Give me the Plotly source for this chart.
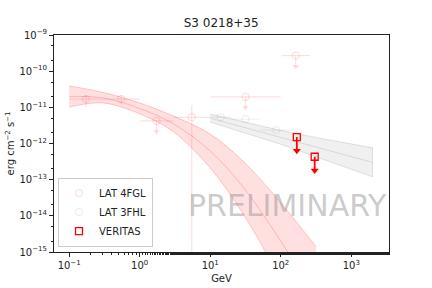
import numpy as np
import plotly.graph_objects as go

# ---- 4FGL log-parabola butterfly ----
band4_e = [0.1, 0.3, 1.0, 3.0, 10.0, 30.0, 100.0, 316.0]
band4_hi = [3.9e-11, 2.6e-11, 1.32e-11, 5.75e-12, 1.82e-12, 3.1e-13, 2.3e-14, 1.4e-15]
band4_mid = [2.0e-11, 1.82e-11, 9.3e-12, 3.5e-12, 6.2e-13, 5.9e-14, 2.0e-15, 5.4e-17]
band4_lo = [1.02e-11, 1.32e-11, 6.6e-12, 2.1e-12, 2.1e-13, 1.05e-14, 1.7e-16, 2.1e-18]

# ---- 3FHL power-law butterfly ----
band3_e = [10.0, 30.0, 100.0, 300.0, 1000.0, 2000.0]
band3_hi = [6.5e-12, 3.9e-12, 2.3e-12, 1.5e-12, 9.8e-13, 7.6e-13]
band3_mid = [5.0e-12, 2.8e-12, 1.5e-12, 8.3e-13, 4.4e-13, 3.0e-13]
band3_lo = [3.9e-12, 2.0e-12, 9.5e-13, 4.6e-13, 1.95e-13, 1.2e-13]

# ---- 4FGL flux points ----
fgl_e = [0.173, 0.548, 5.48]
fgl_e_lo = [0.1, 0.3, 3.0]
fgl_e_hi = [0.3, 1.0, 10.0]
fgl_f = [1.69e-11, 1.69e-11, 5.3e-12]
fgl_f_lo = [1.03e-11, 1.23e-11, 1e-17]
fgl_f_hi = [2.2e-11, 2.2e-11, 1.15e-11]

# 4FGL upper limits
fgl_ul_e = [1.73, 31.6, 163.0]
fgl_ul_e_lo = [1.0, 10.0, 103.0]
fgl_ul_e_hi = [3.0, 100.0, 258.0]
fgl_ul_f = [4.2e-12, 1.94e-11, 2.7e-10]

# ---- 3FHL flux points ----
fhl_e = [14.1, 31.6, 86.6]
fhl_e_lo = [10.0, 20.0, 50.0]
fhl_e_hi = [20.0, 50.0, 150.0]
fhl_f = [5.3e-12, 4.7e-12, 2.35e-12]

# ---- VERITAS upper limits ----
ver_e = [169.0, 303.0]
ver_f = [1.5e-12, 4.3e-13]

PINK_FILL = 'rgba(255,0,0,0.12)'
PINK_LINE = 'rgba(255,0,0,0.2)'
PINK_PT = 'rgba(255,0,0,0.12)'
GRAY_FILL = 'rgba(128,128,128,0.12)'
GRAY_LINE = 'rgba(128,128,128,0.22)'
GRAY_PT = 'rgba(128,128,128,0.12)'


def xerr(e, lo, hi):
    e = np.array(e)
    return dict(type='data', symmetric=False, array=np.array(hi) - e,
                arrayminus=e - np.array(lo), width=0, thickness=1.2)


fig = go.Figure()

# 4FGL butterfly
fig.add_trace(go.Scatter(x=band4_e, y=band4_hi, mode='lines', line=dict(color=PINK_LINE, width=1, shape='spline'),
                         showlegend=False, hoverinfo='skip'))
fig.add_trace(go.Scatter(x=band4_e, y=band4_lo, mode='lines', line=dict(color=PINK_LINE, width=1, shape='spline'),
                         fill='tonexty', fillcolor=PINK_FILL, showlegend=False, hoverinfo='skip'))
fig.add_trace(go.Scatter(x=band4_e, y=band4_mid, mode='lines', line=dict(color=PINK_LINE, width=1, shape='spline'),
                         showlegend=False, hoverinfo='skip'))

# 3FHL butterfly
fig.add_trace(go.Scatter(x=band3_e + band3_e[::-1], y=band3_hi + band3_lo[::-1], mode='lines',
                         line=dict(color=GRAY_LINE, width=1), fill='toself', fillcolor=GRAY_FILL,
                         showlegend=False, hoverinfo='skip'))
fig.add_trace(go.Scatter(x=band3_e, y=band3_mid, mode='lines', line=dict(color=GRAY_LINE, width=1),
                         showlegend=False, hoverinfo='skip'))

# 4FGL points
f = np.array(fgl_f)
fig.add_trace(go.Scatter(
    x=fgl_e, y=fgl_f, mode='markers', name='LAT 4FGL',
    marker=dict(symbol='circle-open', size=7, color=PINK_PT, line=dict(width=1.2)),
    error_x=xerr(fgl_e, fgl_e_lo, fgl_e_hi) | dict(color=PINK_PT),
    error_y=dict(type='data', symmetric=False, array=np.array(fgl_f_hi) - f,
                 arrayminus=f - np.array(fgl_f_lo), width=0, thickness=1.2, color=PINK_PT),
))
ul = np.array(fgl_ul_f)
fig.add_trace(go.Scatter(
    x=fgl_ul_e, y=fgl_ul_f, mode='markers', showlegend=False,
    marker=dict(symbol='circle-open', size=7, color=PINK_PT, line=dict(width=1.2)),
    error_x=xerr(fgl_ul_e, fgl_ul_e_lo, fgl_ul_e_hi) | dict(color=PINK_PT),
    error_y=dict(type='data', symmetric=False, array=ul * 0, arrayminus=ul * 0.5,
                 width=0, thickness=1.2, color=PINK_PT),
))
fig.add_trace(go.Scatter(x=fgl_ul_e, y=ul * 0.5, mode='markers', showlegend=False,
                         marker=dict(symbol='triangle-down', size=6, color=PINK_PT)))

# 3FHL points
fig.add_trace(go.Scatter(
    x=fhl_e, y=fhl_f, mode='markers', name='LAT 3FHL',
    marker=dict(symbol='circle-open', size=7, color=GRAY_PT, line=dict(width=1.2)),
    error_x=xerr(fhl_e, fhl_e_lo, fhl_e_hi) | dict(color=GRAY_PT),
))

# VERITAS upper limits
v = np.array(ver_f)
fig.add_trace(go.Scatter(
    x=ver_e, y=ver_f, mode='markers', name='VERITAS',
    marker=dict(symbol='square-open', size=7, color='red', line=dict(width=1.3)),
    error_y=dict(type='data', symmetric=False, array=v * 0, arrayminus=v * 0.58,
                 width=0, thickness=1.8, color='red'),
))
fig.add_trace(go.Scatter(x=ver_e, y=v * 0.42, mode='markers', showlegend=False,
                         marker=dict(symbol='triangle-down', size=7, color='red')))

sup = lambda n: '10<sup>%s</sup>' % str(n).replace('-', '\u2212')
axis_common = dict(type='log', showgrid=False, zeroline=False, showline=True, mirror=True,
                   linecolor='#222', linewidth=1, ticks='outside', ticklen=4, tickcolor='#222',
                   tickfont=dict(size=10, color='#222'), automargin=False,
                   minor=dict(ticks='outside', ticklen=2, tickcolor='#222', showgrid=False))

fig.update_layout(
    width=432, height=288,
    margin=dict(l=54, r=43, t=35, b=36, autoexpand=False),
    paper_bgcolor='white', plot_bgcolor='white',
    font=dict(family='DejaVu Sans', size=10, color='#222'),
    title=dict(text='S3 0218+35', x=0.512, xanchor='center', y=0.92, yanchor='middle',
               font=dict(size=12)),
    xaxis=axis_common | dict(range=[-1.215, 3.535], tickvals=[0.1, 1, 10, 100, 1000],
                             ticktext=[sup(n) for n in [-1, 0, 1, 2, 3]],
                             title=dict(text='GeV', standoff=4, font=dict(size=10))),
    yaxis=axis_common | dict(range=[-15, -9], tickvals=[10.0 ** n for n in range(-15, -8)],
                             ticktext=[sup(n) for n in range(-15, -8)],
                             title=dict(text='erg cm<sup>\u22122</sup> s<sup>\u22121</sup>', standoff=2,
                                        font=dict(size=10))),
    legend=dict(x=0.012, y=0.025, xanchor='left', yanchor='bottom', bgcolor='rgba(255,255,255,0.8)',
                bordercolor='#ccc', borderwidth=1, font=dict(size=10), tracegroupgap=0,
                traceorder='normal'),
    annotations=[dict(text='PRELIMINARY', xref='paper', yref='paper', x=1.0, y=0.215,
                      xanchor='right', yanchor='middle', showarrow=False,
                      font=dict(size=30, color='rgba(140,140,140,0.45)'))],
)

fig.write_html('out.html', config={'displayModeBar': False},
               post_script="document.body.style.margin='0';")
